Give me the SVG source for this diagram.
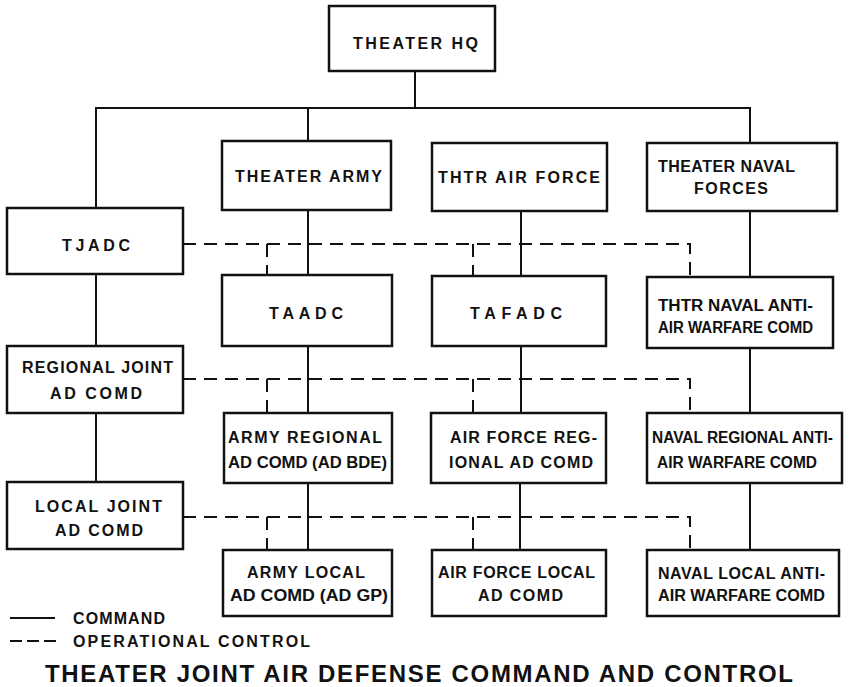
<svg xmlns="http://www.w3.org/2000/svg" width="850" height="687" viewBox="0 0 850 687">
<style>
.box{fill:#fff;stroke:#111;stroke-width:2.5}
.cmd{fill:none;stroke:#111;stroke-width:2}
.op{fill:none;stroke:#111;stroke-width:2;stroke-dasharray:13 8}
text{font-family:"Liberation Sans",Arial,sans-serif;font-weight:bold;font-size:16px;fill:#111;text-anchor:middle}
.leg{text-anchor:start}
.title{font-size:24px;text-anchor:start}
</style>
<rect width="850" height="687" fill="#fff"/>
<g id="connectors">
<path class="cmd" d="M415 71V108M96 208V108H750V143M308 108V141"/>
<path class="cmd" d="M308 210V275M308 346V413M308 483V550"/>
<path class="cmd" d="M521 211V276M521 346V413M520 483V550"/>
<path class="cmd" d="M750 211V277M750 348V413M750 483V550"/>
<path class="cmd" d="M96 274V346M96 413V482"/>
<path class="op" d="M183 244H690V277M267 244V275M473 244V276"/>
<path class="op" d="M183 379H690V413M267 379V413M473 379V413"/>
<path class="op" d="M183 517H690V550M267 517V550M473 517V550"/>
</g>
<g id="theater-hq"><rect class="box" x="329" y="6" width="166" height="65"/><text x="415.5" y="49" textLength="125" lengthAdjust="spacing">THEATER HQ</text></g>
<g id="theater-army"><rect class="box" x="222" y="141" width="169" height="69"/><text x="308.5" y="182" textLength="147" lengthAdjust="spacing">THEATER ARMY</text></g>
<g id="thtr-air-force"><rect class="box" x="432" y="143" width="175" height="68"/><text x="519" y="183" textLength="162" lengthAdjust="spacing">THTR AIR FORCE</text></g>
<g id="theater-naval-forces"><rect class="box" x="647" y="143" width="190" height="68"/><text x="726.5" y="172" textLength="137" lengthAdjust="spacing">THEATER NAVAL</text><text x="731" y="194" textLength="74" lengthAdjust="spacing">FORCES</text></g>
<g id="tjadc"><rect class="box" x="7" y="208" width="176" height="66"/><text x="96" y="251" textLength="68" lengthAdjust="spacing">TJADC</text></g>
<g id="taadc"><rect class="box" x="222" y="275" width="170" height="71"/><text x="306" y="319" textLength="74" lengthAdjust="spacing">TAADC</text></g>
<g id="tafadc"><rect class="box" x="432" y="276" width="174" height="70"/><text x="516" y="319" textLength="92" lengthAdjust="spacing">TAFADC</text></g>
<g id="thtr-naval-aaw"><rect class="box" x="647" y="277" width="186" height="71"/><text x="735.5" y="311" textLength="155" lengthAdjust="spacingAndGlyphs">THTR NAVAL ANTI-</text><text x="735.5" y="333" textLength="155" lengthAdjust="spacingAndGlyphs">AIR WARFARE COMD</text></g>
<g id="regional-joint"><rect class="box" x="7" y="346" width="176" height="67"/><text x="97.5" y="373" textLength="151" lengthAdjust="spacing">REGIONAL JOINT</text><text x="96" y="399" textLength="92" lengthAdjust="spacing">AD COMD</text></g>
<g id="army-regional"><rect class="box" x="224" y="413" width="168" height="70"/><text x="305" y="443" textLength="154" lengthAdjust="spacing">ARMY REGIONAL</text><text x="307.5" y="468" textLength="159" lengthAdjust="spacingAndGlyphs">AD COMD (AD BDE)</text></g>
<g id="af-regional"><rect class="box" x="431" y="413" width="175" height="70"/><text x="523.5" y="443" textLength="147" lengthAdjust="spacing">AIR FORCE REG-</text><text x="521" y="468" textLength="144" lengthAdjust="spacing">IONAL AD COMD</text></g>
<g id="naval-regional"><rect class="box" x="647" y="413" width="195" height="70"/><text x="742.5" y="443" textLength="181" lengthAdjust="spacingAndGlyphs">NAVAL REGIONAL ANTI-</text><text x="737" y="468" textLength="160" lengthAdjust="spacingAndGlyphs">AIR WARFARE COMD</text></g>
<g id="local-joint"><rect class="box" x="7" y="482" width="176" height="67"/><text x="98.5" y="512" textLength="127" lengthAdjust="spacing">LOCAL JOINT</text><text x="99" y="536" textLength="88" lengthAdjust="spacing">AD COMD</text></g>
<g id="army-local"><rect class="box" x="223" y="550" width="169" height="66"/><text x="306" y="578" textLength="118" lengthAdjust="spacing">ARMY LOCAL</text><text x="309" y="601" textLength="158" lengthAdjust="spacingAndGlyphs">AD COMD (AD GP)</text></g>
<g id="af-local"><rect class="box" x="432" y="550" width="174" height="66"/><text x="516.5" y="578" textLength="157" lengthAdjust="spacing">AIR FORCE LOCAL</text><text x="520.5" y="601" textLength="85" lengthAdjust="spacing">AD COMD</text></g>
<g id="naval-local"><rect class="box" x="647" y="550" width="192" height="66"/><text x="741.5" y="579" textLength="167" lengthAdjust="spacing">NAVAL LOCAL ANTI-</text><text x="741.5" y="601" textLength="167" lengthAdjust="spacingAndGlyphs">AIR WARFARE COMD</text></g>
<g id="legend">
<path class="cmd" d="M10 618H55"/>
<path class="cmd" d="M10 641H57" stroke-dasharray="12 5"/>
<text class="leg" x="73" y="624" textLength="92" lengthAdjust="spacing">COMMAND</text>
<text class="leg" x="73" y="647" textLength="237" lengthAdjust="spacing">OPERATIONAL CONTROL</text>
</g>
<text class="title" x="45" y="682" textLength="748" lengthAdjust="spacing">THEATER JOINT AIR DEFENSE COMMAND AND CONTROL</text>
</svg>
